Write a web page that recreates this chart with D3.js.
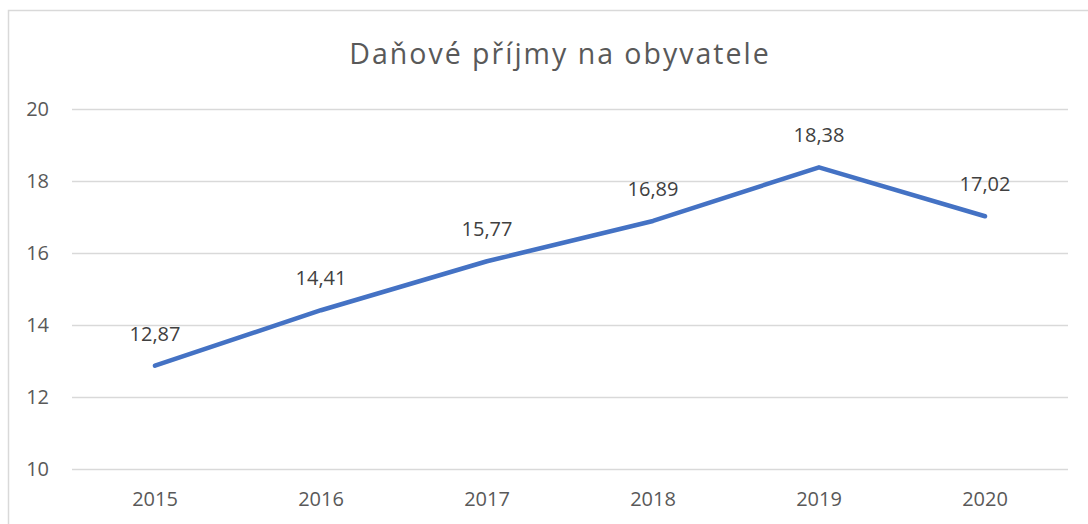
<!DOCTYPE html>
<html><head><meta charset="utf-8">
<script src="https://cdn.jsdelivr.net/npm/d3@7"></script>
<style>
html,body{margin:0;padding:0;background:#fff;overflow:hidden;}
text{font-family:"Open Sans",sans-serif;}
</style></head>
<body>
<svg id="chart" width="1088" height="524"></svg>
<script>
const title = "Daňové příjmy na obyvatele";
const years = ["2015","2016","2017","2018","2019","2020"];
const values = [12.87, 14.41, 15.77, 16.89, 18.38, 17.02];
const yTicks = [10, 12, 14, 16, 18, 20];

const svg = d3.select("#chart");
svg.append("rect").attr("x",8.5).attr("y",10.5).attr("width",1200).attr("height",600)
  .attr("fill","#fff").attr("stroke","#d9d9d9").attr("stroke-width",1.5);

const x = d3.scaleBand().domain(years).range([72,1068]);
const y = d3.scaleLinear().domain([10,20]).range([469,109]);

svg.append("text").attr("x",560).attr("y",63.5).attr("text-anchor","middle")
  .attr("font-size",28.5).attr("letter-spacing",2).attr("fill","#595959").text(title);

const grid = svg.append("g");
grid.selectAll("line").data(yTicks).join("line")
  .attr("x1",72).attr("x2",1068)
  .attr("y1",d=>Math.round(y(d))+0.5).attr("y2",d=>Math.round(y(d))+0.5)
  .attr("stroke","#d9d9d9").attr("stroke-width",1.3);

const yAxis = d3.axisLeft(y).tickValues(yTicks).tickSize(0).tickPadding(0);
const ya = svg.append("g").attr("transform","translate(49,0)").call(yAxis);
ya.select(".domain").remove();
ya.selectAll("text").attr("font-size",20).attr("fill","#595959")
  .attr("font-family","'Open Sans',sans-serif").attr("dy","0.33em");

const xAxis = d3.axisBottom(x).tickSize(0).tickPadding(0);
const xa = svg.append("g").attr("transform","translate(0,506)").call(xAxis);
xa.select(".domain").remove();
xa.selectAll("text").attr("font-size",20).attr("fill","#595959")
  .attr("font-family","'Open Sans',sans-serif").attr("dy","0");

const line = d3.line().x((d,i)=>x(years[i])+x.bandwidth()/2).y(d=>y(d));
svg.append("path").datum(values).attr("d",line).attr("fill","none")
  .attr("stroke","#4472C4").attr("stroke-width",4.5)
  .attr("stroke-linecap","round").attr("stroke-linejoin","round");

svg.append("g").selectAll("text").data(values).join("text")
  .attr("x",(d,i)=>x(years[i])+x.bandwidth()/2)
  .attr("y",d=>y(d)-25)
  .attr("text-anchor","middle").attr("font-size",20).attr("fill","#404040")
  .text(d=>d.toFixed(2).replace(".",","));
</script>
</body></html>
